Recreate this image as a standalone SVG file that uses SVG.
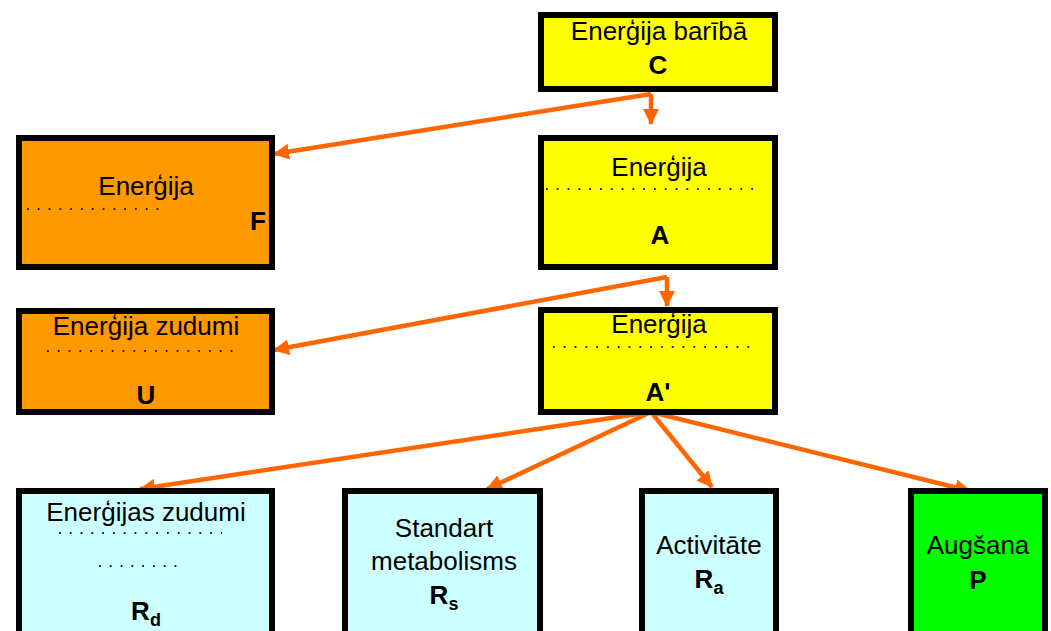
<svg xmlns="http://www.w3.org/2000/svg" width="1051" height="631" viewBox="0 0 1051 631">
<defs>
<marker id="ah" markerUnits="userSpaceOnUse" markerWidth="16" markerHeight="16" viewBox="0 0 16 16" refX="15" refY="8" orient="auto">
<path d="M0,0 L16,8 L0,16 Z" fill="#FF6600"/>
</marker>
<style>
.box{stroke:#000;stroke-width:6}
.y{fill:#FFFF00}.o{fill:#FF9900}.c{fill:#CCFFFF}.g{fill:#00FF00}
.t{font-family:"Liberation Sans",Arial,sans-serif;font-size:26px;fill:#000;text-anchor:middle}
.b{font-weight:bold}
.dots{stroke:#222;stroke-width:1.8;stroke-dasharray:1.8 9}
.ln{stroke:#FF6600;stroke-width:4.5;fill:none}
</style>
</defs>
<rect width="1051" height="631" fill="#fff"/>
<g id="connectors">
<line class="ln" x1="651" y1="94" x2="274" y2="154" marker-end="url(#ah)"/>
<line class="ln" x1="651" y1="94" x2="651" y2="124" marker-end="url(#ah)"/>
<line class="ln" x1="667" y1="277" x2="274" y2="350" marker-end="url(#ah)"/>
<line class="ln" x1="667" y1="277" x2="667" y2="306" marker-end="url(#ah)"/>
<line class="ln" x1="651" y1="412" x2="140" y2="489" marker-end="url(#ah)"/>
<line class="ln" x1="651" y1="412" x2="487" y2="489" marker-end="url(#ah)"/>
<line class="ln" x1="651" y1="412" x2="712" y2="487" marker-end="url(#ah)"/>
<line class="ln" x1="651" y1="412" x2="970" y2="491" marker-end="url(#ah)"/>
</g>
<g id="nodeC">
<rect class="box y" x="541" y="15" width="234" height="74"/>
<text class="t" x="659" y="40">Enerģija barībā</text>
<text class="t b" x="658" y="74">C</text>
</g>
<g id="nodeF">
<rect class="box o" x="19" y="138" width="253" height="129"/>
<text class="t" x="146" y="195">Enerģija</text>
<line class="dots" x1="27" y1="209" x2="164" y2="209"/>
<text class="t b" x="258" y="230">F</text>
</g>
<g id="nodeA">
<rect class="box y" x="541" y="138" width="234" height="129"/>
<text class="t" x="659" y="176">Enerģija</text>
<line class="dots" x1="546" y1="189" x2="762" y2="189"/>
<text class="t b" x="660" y="244">A</text>
</g>
<g id="nodeU">
<rect class="box o" x="19" y="311" width="253" height="101"/>
<text class="t" x="146" y="335">Enerģija zudumi</text>
<line class="dots" x1="47" y1="351" x2="233" y2="351"/>
<text class="t b" x="146" y="404">U</text>
</g>
<g id="nodeA2">
<rect class="box y" x="541" y="310" width="234" height="102"/>
<text class="t" x="659" y="333">Enerģija</text>
<line class="dots" x1="553" y1="347" x2="757" y2="347"/>
<text class="t b" x="658" y="401">A'</text>
</g>
<g id="nodeRd">
<rect class="box c" x="19" y="491" width="253" height="150"/>
<text class="t" x="146" y="521">Enerģijas zudumi</text>
<line class="dots" x1="59" y1="533" x2="222" y2="533"/>
<line class="dots" x1="99" y1="566" x2="182" y2="566"/>
<text class="t b" x="146" y="620">R<tspan font-size="18" dy="6">d</tspan></text>
</g>
<g id="nodeRs">
<rect class="box c" x="345" y="491" width="195" height="150"/>
<text class="t" x="444" y="537">Standart</text>
<text class="t" x="444" y="570">metabolisms</text>
<text class="t b" x="444" y="604">R<tspan font-size="18" dy="6">s</tspan></text>
</g>
<g id="nodeRa">
<rect class="box c" x="642" y="491" width="134" height="150"/>
<text class="t" x="709" y="554">Activitāte</text>
<text class="t b" x="709" y="588">R<tspan font-size="18" dy="6">a</tspan></text>
</g>
<g id="nodeP">
<rect class="box g" x="911" y="491" width="134" height="150"/>
<text class="t" x="978" y="554">Augšana</text>
<text class="t b" x="978" y="589">P</text>
</g>
</svg>
